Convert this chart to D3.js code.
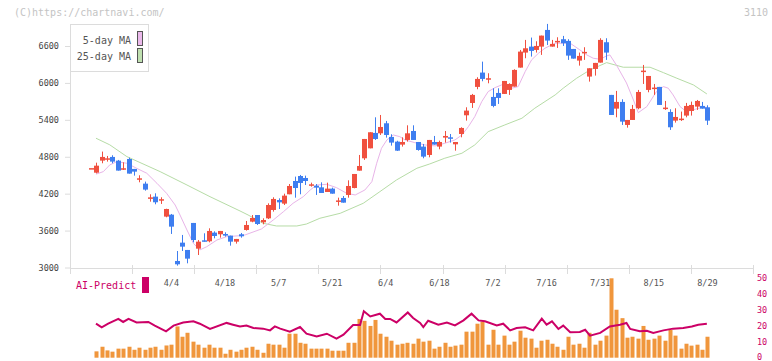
<!DOCTYPE html>
<html><head><meta charset="utf-8">
<script src="https://cdn.jsdelivr.net/npm/d3@7"></script>
<style>body{margin:0;background:#fff}svg{display:block}text{font-family:"DejaVu Sans Mono","Liberation Mono",monospace}</style>
</head><body><svg id="c" width="772" height="361"></svg>
<script>
// ---- data ----
const opens =[4615,4541,4737,4765,4797,4737,4591,4764,4602,4440,4363,4130,4152,4100,3827,3859,3106,3404,3285,3724,3306,3442,3426,3567,3540,3545,3518,3420,3540,3610,3745,3853,3734,3799,3935,4097,4038,4190,4406,4487,4455,4350,4330,4303,4227,4282,4080,4130,4179,4292,4574,4775,4937,5187,5181,5344,5122,5046,4997,5073,5219,5040,4965,4829,5040,4965,5111,5116,5002,5170,5474,5674,5935,6168,6070,5772,5837,5821,5886,5940,6249,6493,6590,6536,6590,6861,6590,6677,6710,6683,6552,6363,6498,6103,6227,6330,6661,5805,5582,5691,5317,5398,5588,6195,5886,5918,5935,5594,5528,5387,5412,5469,5544,5615,5626,5604];
const highs =[4615,4704,4884,4813,4824,4748,4710,4786,4602,4499,4396,4190,4206,4141,3955,3870,3268,3529,3285,3724,3447,3556,3637,3588,3594,3572,3518,3464,3561,3756,3853,3853,3800,4043,4141,4124,4200,4357,4477,4504,4493,4379,4357,4384,4379,4298,4135,4162,4417,4520,4829,5089,5198,5441,5479,5382,5165,5060,5116,5311,5311,5040,5008,5073,5138,5062,5219,5170,5040,5279,5604,5821,6092,6346,6157,5913,5913,6032,5994,6222,6536,6699,6737,6677,6769,6959,6699,6742,6764,6710,6552,6493,6580,6238,6325,6726,6726,5805,5870,5734,5398,5642,5886,6292,6113,5983,5935,5707,5572,5588,5534,5675,5696,5723,5691,5637];
const lows  =[4615,4530,4694,4721,4694,4575,4585,4526,4493,4385,4249,4070,4027,4033,3816,3545,3030,3268,3068,3409,3203,3420,3409,3474,3485,3501,3355,3388,3485,3600,3735,3691,3702,3788,3908,3951,4016,4190,4135,4190,4341,4314,4179,4211,4227,4200,4005,4054,4135,4287,4574,4748,4937,5073,5154,5111,4981,4894,4965,5046,5073,4899,4775,4791,4997,4921,5030,5030,4899,5116,5387,5593,5897,6027,5994,5604,5658,5821,5805,5940,6249,6401,6428,6493,6455,6617,6590,6569,6601,6374,6395,6281,6374,6021,6119,6330,6374,5479,5441,5317,5273,5398,5572,5983,5848,5805,5642,5561,5236,5355,5382,5441,5469,5561,5582,5317];
const closes=[4615,4655,4797,4775,4721,4575,4613,4526,4558,4450,4266,4140,4060,4110,3951,3664,3052,3339,3144,3447,3420,3440,3594,3512,3594,3518,3420,3464,3507,3691,3805,3707,3772,4016,4114,4059,4168,4325,4292,4374,4406,4352,4298,4211,4282,4200,4090,4054,4325,4520,4650,5089,5198,5089,5284,5154,5030,4899,5040,5181,5073,4910,4802,5073,4997,5040,5138,5095,5040,5268,5550,5805,6065,6065,6076,5626,5756,6032,5983,6211,6509,6563,6520,6601,6769,6688,6634,6683,6645,6444,6395,6439,6504,6238,6325,6699,6493,5479,5691,5371,5398,5577,5853,6200,6113,5924,5642,5599,5279,5447,5420,5626,5642,5707,5582,5387];
const volumes=[null,4.0,6.9,4.6,3.8,5.7,5.7,6.9,5.0,6.3,5.0,6.3,6.9,5.0,7.7,8.2,19.7,13.2,15.7,10.1,8.2,6.3,8.2,6.3,6.3,2.5,5.0,3.8,5.0,6.3,6.9,5.0,3.1,8.8,8.2,8.2,6.3,15.1,15.1,9.4,8.8,5.7,5.7,5.7,5.7,4.4,4.4,4.4,9.4,9.4,24.4,23.2,20.0,23.8,15.1,13.2,10.7,8.2,8.8,9.4,8.8,12.0,10.1,10.7,5.7,6.9,9.4,6.9,7.6,8.2,16.4,16.4,21.4,22.7,8.2,17.6,8.2,13.9,8.2,10.1,17.0,12.6,12.0,6.3,10.7,11.3,8.8,6.9,5.0,13.2,8.2,8.8,6.3,15.7,8.2,10.7,13.9,50.0,30.2,24.9,12.6,13.2,12.0,20.0,11.3,12.0,13.9,10.7,17.6,13.9,5.7,8.8,7.6,8.2,5.0,13.2];
const ma5Idx=[0.93,2.3,3.5,4.8,6.7,8.5,10.4,12.3,14.1,15.7,16.6,17.9,19.1,20.3,21.6,23.5,25.3,27.8,28.7,31.8,34.0,35.9,37.7,39.6,40.9,42.1,44.0,45.8,47.7,49.3,51.1,52.4,53.3,54.2,55.2,56.4,57.6,58.6,60.4,62.3,64.2,66.0,67.9,69.2,70.4,71.6,72.9,74.1,75.4,76.6,78.5,79.7,81.0,82.2,83.5,84.7,86.6,89.4,91.2,92.5,93.7,95.0,96.2,96.8,98.1,99.9,101.2,102.1,103.7,105.5,106.8,107.7,108.6,109.9,111.1,112.7,113.9,115];
const ma5Val=[4517,4558,4667,4720,4694,4613,4532,4369,4206,4016,3854,3610,3393,3285,3338,3447,3501,3517,3528,3626,3772,3907,4044,4151,4260,4341,4352,4298,4206,4179,4260,4395,4694,4938,5073,5154,5127,5073,5030,4992,4976,5019,5073,5154,5289,5452,5696,5859,5924,5967,5914,5940,6184,6374,6483,6564,6645,6645,6537,6455,6401,6385,6439,6455,6280,6000,5723,5517,5615,5859,5940,5914,5805,5615,5533,5572,5599,5604];
const ma25Idx=[0.93,3.5,6.7,12.9,17.9,22.2,27.8,29.3,32.1,34.6,38.4,40.2,42.7,46.5,50.8,53.9,57.0,60.8,63.2,66.0,69.2,71.6,74.1,77.2,80.4,82.8,86.6,88.1,90.6,93.1,96.2,99.3,104.3,106.8,109.3,112.4,114.9];
const ma25Val=[5101,4994,4802,4558,4341,4151,3919,3854,3719,3675,3675,3707,3800,3881,4044,4233,4423,4613,4683,4776,4857,4992,5208,5317,5426,5589,5805,5914,6076,6211,6330,6255,6255,6167,6076,5967,5821];
const aiIdx=[0.93,2.0,3.2,5.1,6.0,7.0,8.5,10.7,11.9,14.0,15.4,17.2,19.1,20.3,22.2,25.3,26.5,27.8,29.0,30.3,32.1,33.4,34.3,35.3,37.1,39.0,40.2,42.1,44.0,45.8,47.1,48.9,50.2,50.9,52.1,53.9,54.9,55.8,57.0,59.1,60.1,61.4,62.0,62.9,64.8,66.4,67.9,69.5,71.0,72.3,73.5,75.7,76.9,78.2,79.4,81.0,82.5,84.1,85.0,86.0,87.2,88.1,89.4,91.2,92.2,93.1,95.0,96.8,98.7,99.9,100.6,102.4,103.7,104.9,106.8,108.6,110.5,112.1,113.3,114.9];
const aiVal=[21.4,19.1,21.4,24.4,22.5,24.4,22.2,22.5,20.2,16.6,20.2,22.2,22.9,21.4,18.1,21.9,20.8,19.7,20.3,18.7,18.3,17.2,19.7,18.3,16.4,19.3,15.1,13.4,15.1,12.0,14.5,20.6,20.6,29.2,26.0,27.7,24.4,24.4,22.2,28.5,25.0,21.9,19.3,23.3,20.8,22.2,20.3,23.5,27.7,23.5,22.9,20.3,21.4,17.2,18.7,19.1,17.2,24.6,20.8,22.9,18.1,20.2,16.0,16.2,17.6,13.9,15.6,19.7,20.8,21.9,18.1,16.6,17.0,15.6,17.2,18.3,18.7,19.7,20.8,21.4];
const dateLabels=["4/4","4/18","5/7","5/21","6/4","6/18","7/2","7/16","7/31","8/15","8/29"];
const labelIdx=[15,25,35,45,55,65,75,85,95,105,115];
const priceTicks=[3000,3600,4200,4800,5400,6000,6600];
const rightTicks=[0,10,20,30,40,50];
const gridDivisions=11;

// ---- layout ----
const svg=d3.select("#c");
const plotL=70,plotR=753,plotTop=24,plotBot=268;
const x=d3.scaleLinear().domain([0,115]).range([91,707.4]);
const y=d3.scaleLinear().domain([3000,6600]).range([267.5,46]);
const v=d3.scaleLinear().domain([0,50]).range([357.7,278.3]);
const UP="#f0503f",DOWN="#3e7ef0",AXC="#dcdcdc",MAG="#cc0066";

svg.append("text").attr("x",14).attr("y",16).attr("font-size",10).attr("fill","#c4c4c4").text("(C)https://chartnavi.com/");
svg.append("text").attr("x",768).attr("y",16).attr("text-anchor","end").attr("font-size",10).attr("fill","#c4c4c4").text("3110");

// axes frame
svg.append("line").attr("x1",plotL+0.5).attr("x2",plotL+0.5).attr("y1",plotTop).attr("y2",plotBot+0.5).attr("stroke",AXC);
svg.append("line").attr("x1",plotL).attr("x2",plotR).attr("y1",plotBot+0.5).attr("y2",plotBot+0.5).attr("stroke",AXC);
const gx=d3.range(gridDivisions+1).map(k=>plotL+k*(plotR-plotL)/gridDivisions);
svg.selectAll(".xt").data(gx).enter().append("line").attr("x1",d=>Math.round(d)+0.5).attr("x2",d=>Math.round(d)+0.5).attr("y1",265).attr("y2",274).attr("stroke",AXC);

const ya=d3.axisLeft(y).tickValues(priceTicks).tickFormat(d3.format("d")).tickSize(5).tickPadding(6);
const gy=svg.append("g").attr("transform",`translate(${plotL},0)`).call(ya);
gy.select(".domain").remove();
gy.selectAll("line").attr("stroke",AXC);
gy.selectAll("text").attr("font-size",8.5).attr("fill","#444").attr("font-family","DejaVu Sans Mono");

svg.selectAll(".xl").data(labelIdx).enter().append("text").attr("x",d=>x(d)).attr("y",286).attr("text-anchor","middle").attr("font-size",8.5).attr("fill","#555").text((d,i)=>dateLabels[i]);

// MA lines
const ma25=ma25Idx.map((d,i)=>[d,ma25Val[i]]);
const ma5=ma5Idx.map((d,i)=>[d,ma5Val[i]]);
const ln=d3.line().x(d=>x(d[0])).y(d=>y(d[1]));
svg.append("path").attr("d",ln(ma25)).attr("fill","none").attr("stroke","#b6dca6").attr("stroke-width",1);
svg.append("path").attr("d",ln(ma5)).attr("fill","none").attr("stroke","#e8b4e8").attr("stroke-width",1);

// candles
const idx=d3.range(opens.length);
const g=svg.append("g");
idx.forEach(i=>{
  const o=opens[i],c=closes[i],h=highs[i],l=lows[i];
  const col=c>=o?UP:DOWN;
  const cx=Math.round(x(i));
  g.append("line").attr("x1",cx+0.5).attr("x2",cx+0.5).attr("y1",y(h)).attr("y2",y(l)).attr("stroke",col).attr("stroke-width",1);
  const top=y(Math.max(o,c)),bot=y(Math.min(o,c));
  g.append("rect").attr("x",cx-2).attr("width",5).attr("y",top).attr("height",Math.max(1.5,bot-top)).attr("fill",col);
});

// legend
svg.append("rect").attr("x",plotL+0.5).attr("y",plotTop+0.5).attr("width",78).attr("height",47).attr("fill","#fff").attr("stroke",AXC);
svg.append("text").attr("x",131).attr("y",44).attr("text-anchor","end").attr("font-size",10).attr("fill","#555").text("5-day MA");
svg.append("text").attr("x",131).attr("y",60).attr("text-anchor","end").attr("font-size",10).attr("fill","#555").text("25-day MA");
svg.append("rect").attr("x",137.5).attr("y",31.5).attr("width",5).attr("height",14).attr("fill","#ebb9eb").attr("stroke","#555");
svg.append("rect").attr("x",137.5).attr("y",48.5).attr("width",5).attr("height",14).attr("fill","#bfe0b0").attr("stroke","#555");

// bottom panel
svg.append("text").attr("x",76).attr("y",289).attr("font-size",10).attr("fill",MAG).text("AI-Predict");
svg.append("rect").attr("x",142).attr("y",277).attr("width",7).attr("height",16).attr("fill",MAG);
svg.selectAll(".rt").data(rightTicks).enter().append("text").attr("x",757).attr("y",d=>Math.min(v(d)+3,359.5)).attr("font-size",8.5).attr("fill",MAG).text(d=>d);
svg.selectAll(".vb").data(idx.filter(i=>volumes[i]!=null)).enter().append("rect")
  .attr("x",i=>Math.round(x(i))-1.5).attr("width",4).attr("y",i=>v(volumes[i])).attr("height",i=>v(0)-v(volumes[i])).attr("fill","#f0963c");
const ai=aiIdx.map((d,i)=>[d,aiVal[i]]);
svg.append("path").attr("d",d3.line().x(d=>x(d[0])).y(d=>v(d[1]))(ai)).attr("fill","none").attr("stroke",MAG).attr("stroke-width",2);
</script></body></html>
